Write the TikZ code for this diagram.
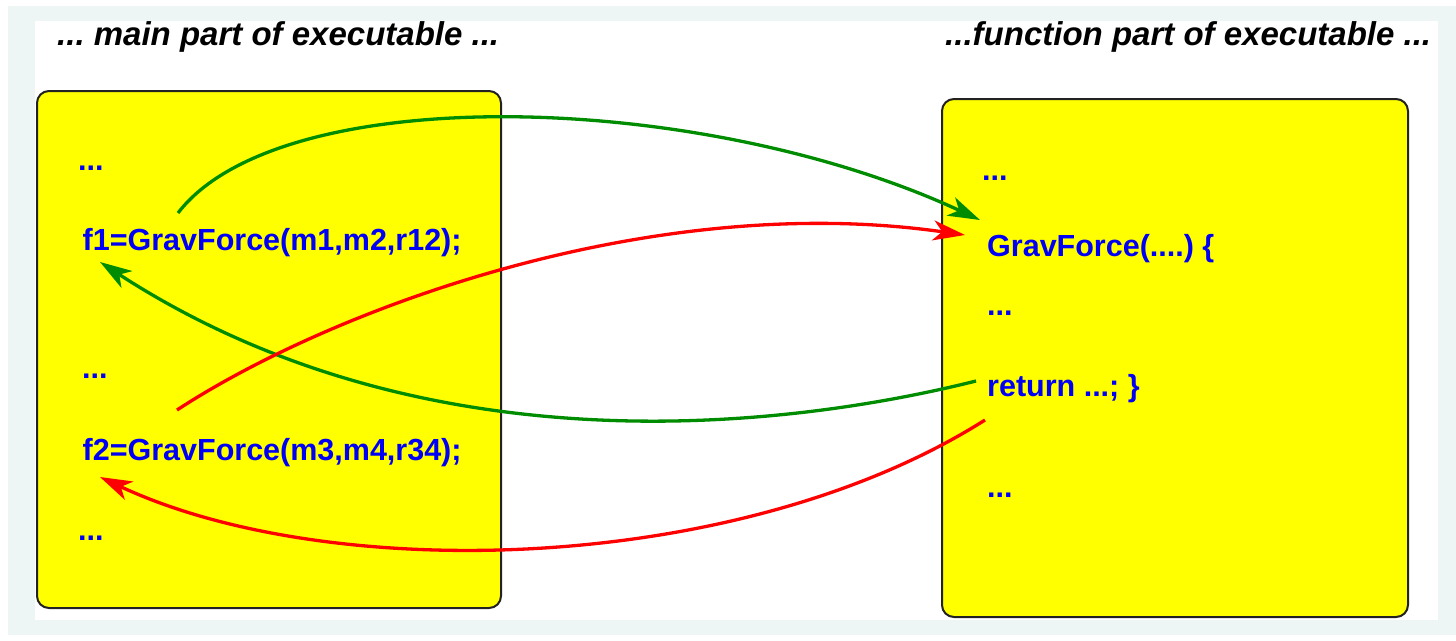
\documentclass[tikz,border=0pt]{standalone}
\usepackage{fontspec}
\setmainfont{Liberation Sans}
\usetikzlibrary{arrows.meta}
\frenchspacing
\definecolor{frame}{HTML}{EDF5F5}
\definecolor{panelfill}{RGB}{255,255,0}
\definecolor{codeblue}{RGB}{0,0,245}
\definecolor{callgreen}{RGB}{0,140,0}
\definecolor{callred}{RGB}{255,0,0}
\definecolor{boxedge}{HTML}{222222}
\tikzset{
  panel/.style={draw=boxedge, line width=2pt, fill=panelfill, rounded corners=12pt,
    rectangle, inner sep=0pt},
  code/.style={anchor=base west, inner sep=0pt, text=codeblue,
    font=\fontsize{30.5}{36}\selectfont\bfseries},
  heading/.style={anchor=base west, inner sep=0pt, text=black,
    font=\fontsize{33}{40}\selectfont\bfseries\itshape},
  flow/.style={line width=3.3pt, -{Stealth[length=32pt,width=20pt,inset=9pt]}},
}
\begin{document}
\begin{tikzpicture}[x=1pt, y=-1pt]
  % page frame
  \useasboundingbox (0,0) rectangle (1456,640);
  \fill[white] (0,0) rectangle (1456,640);
  \fill[frame] (8,6) rectangle (1456,635);
  \fill[white] (35,21) rectangle (1438,620);

  % headings
  \node[heading] (mainhead) at (57,45) {... main part of executable ...};
  \node[heading] (funchead) at (945,45) {...function part of executable ...};

  % the two parts of the program
  \node[panel, minimum width=464pt, minimum height=517pt] (mainbox) at (269,349.5) {};
  \node[panel, minimum width=466pt, minimum height=518pt] (funcbox) at (1175,358) {};

  % main part
  \node[code] (m1) at (78,170) {...};
  \node[code] (f1) at (82.5,250) {f1=GravForce(m1,m2,r12);};
  \node[code] (m2) at (82,378) {...};
  \node[code] (f2) at (82.5,460) {f2=GravForce(m3,m4,r34);};
  \node[code] (m3) at (78,540) {...};

  % function part
  \node[code] (d1) at (982,180) {...};
  \node[code] (head) at (987,256) {GravForce(....) \{};
  \node[code] (d2) at (987,315) {...};
  \node[code] (ret) at (987,396.5) {return ...; \}};
  \node[code] (d3) at (987,497) {...};

  % call and return points
  \coordinate (call1) at (178,213);
  \coordinate (call2) at (177,410);
  \coordinate (entry1) at (980,220);
  \coordinate (entry2) at (965,235);
  \coordinate (back1) at (976,381);
  \coordinate (back2) at (985,420);
  \coordinate (land1) at (100,262);
  \coordinate (land2) at (100,477);

  % first call and its return
  \draw[flow, callgreen] (call1) .. controls (280,80) and (700,90) .. (entry1);
  \draw[flow, callgreen] (back1) .. controls (780,430) and (420,470) .. (land1);

  % second call and its return
  \draw[flow, callred] (call2) .. controls (330,310) and (650,190) .. (entry2);
  \draw[flow, callred] (back2) .. controls (740,575) and (330,585) .. (land2);
\end{tikzpicture}
\end{document}
